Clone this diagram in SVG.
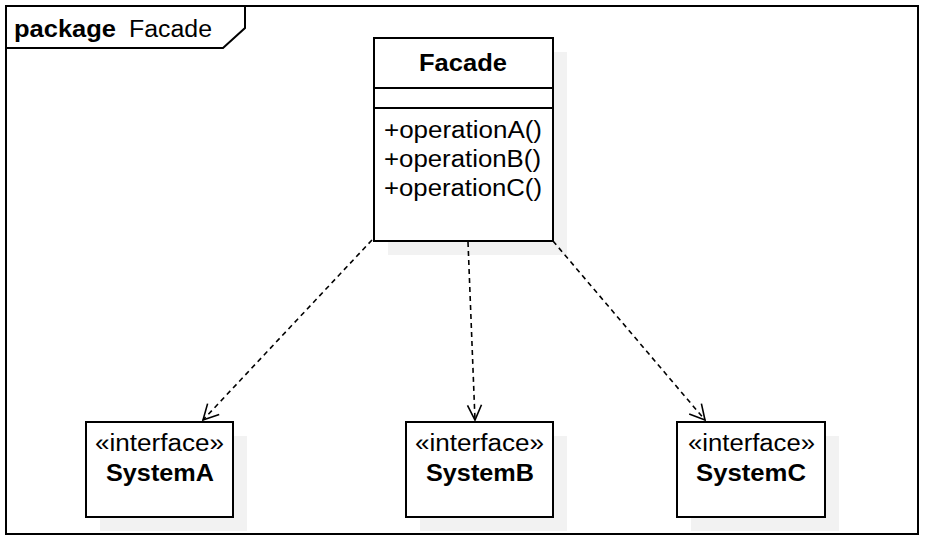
<svg xmlns="http://www.w3.org/2000/svg" width="926" height="540" viewBox="0 0 926 540">
<defs>
<style>
.t{font-family:"Liberation Sans",Arial,sans-serif;font-size:23px;fill:#000}
.b{font-weight:bold}
.box{fill:#fff;stroke:#000;stroke-width:2}
.sh{fill:#f2f2f2;stroke:none}
.dep{fill:none;stroke:#000;stroke-width:1.6;stroke-dasharray:5,4}
.ah{fill:none;stroke:#000;stroke-width:1.6}
</style>
</defs>
<rect width="926" height="540" fill="#fff"/>
<g id="frame">
<rect x="6" y="6" width="912" height="528" fill="none" stroke="#000" stroke-width="2"/>
<polyline points="6,48 223,48 245,28 245,6" fill="none" stroke="#000" stroke-width="2"/>
<text class="t b" x="14" y="37" textLength="102" lengthAdjust="spacingAndGlyphs">package</text>
<text class="t" x="129" y="37" textLength="83" lengthAdjust="spacingAndGlyphs">Facade</text>
</g>
<g id="Facade">
<rect class="sh" x="388" y="52" width="179" height="203"/>
<rect class="box" x="374" y="38" width="179" height="203"/>
<line x1="374" y1="88" x2="553" y2="88" stroke="#000" stroke-width="2"/>
<line x1="374" y1="108" x2="553" y2="108" stroke="#000" stroke-width="2"/>
<text class="t b" x="419" y="71" textLength="88" lengthAdjust="spacingAndGlyphs">Facade</text>
<text class="t" x="384" y="138" textLength="158" lengthAdjust="spacingAndGlyphs">+operationA()</text>
<text class="t" x="384" y="167" textLength="157" lengthAdjust="spacingAndGlyphs">+operationB()</text>
<text class="t" x="384" y="196" textLength="158" lengthAdjust="spacingAndGlyphs">+operationC()</text>
</g>
<g id="SystemA">
<rect class="sh" x="100" y="436" width="147" height="95"/>
<rect class="box" x="86" y="422" width="147" height="95"/>
<text class="t" x="95" y="451" textLength="129" lengthAdjust="spacingAndGlyphs">«interface»</text>
<text class="t b" x="106" y="481" textLength="108" lengthAdjust="spacingAndGlyphs">SystemA</text>
</g>
<g id="SystemB">
<rect class="sh" x="420" y="436" width="147" height="95"/>
<rect class="box" x="406" y="422" width="147" height="95"/>
<text class="t" x="415" y="451" textLength="129" lengthAdjust="spacingAndGlyphs">«interface»</text>
<text class="t b" x="426" y="481" textLength="108" lengthAdjust="spacingAndGlyphs">SystemB</text>
</g>
<g id="SystemC">
<rect class="sh" x="691" y="436" width="148" height="95"/>
<rect class="box" x="677" y="422" width="148" height="95"/>
<text class="t" x="688" y="451" textLength="127" lengthAdjust="spacingAndGlyphs">«interface»</text>
<text class="t b" x="696" y="481" textLength="110" lengthAdjust="spacingAndGlyphs">SystemC</text>
</g>
<g id="connectors">
<line class="dep" x1="372" y1="240" x2="203" y2="420"/>
<polyline class="ah" points="207.6,403.6 203,420 219.2,414.5"/>
<line class="dep" x1="468" y1="242" x2="475" y2="420"/>
<polyline class="ah" points="467.5,405.3 475,420 481.5,404.8"/>
<line class="dep" x1="553" y1="241" x2="705" y2="420"/>
<polyline class="ah" points="689.2,413.9 705,420 701.4,403.6"/>
</g>
</svg>
